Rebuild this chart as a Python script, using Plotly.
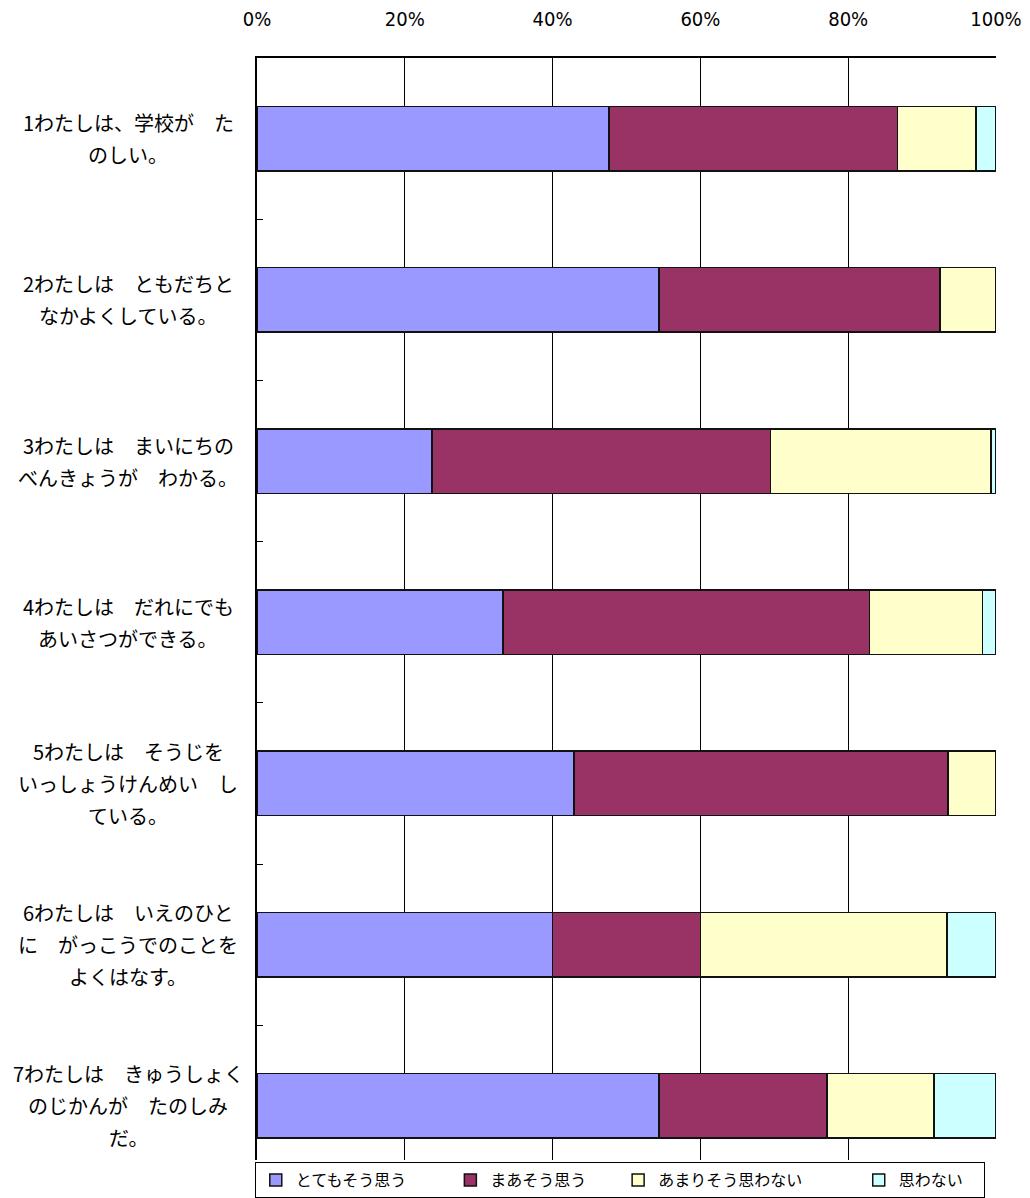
import plotly.graph_objects as go

# questions (top to bottom), split into display lines
questions = [
    "1わたしは、学校が　た<br>のしい。",
    "2わたしは　ともだちと<br>なかよくしている。",
    "3わたしは　まいにちの<br>べんきょうが　わかる。",
    "4わたしは　だれにでも<br>あいさつができる。",
    "5わたしは　そうじを<br>いっしょうけんめい　し<br>ている。",
    "6わたしは　いえのひと<br>に　がっこうでのことを<br>よくはなす。",
    "7わたしは　きゅうしょく<br>のじかんが　たのしみ<br>だ。",
]
categories = ["Q1", "Q2", "Q3", "Q4", "Q5", "Q6", "Q7"]

# percentages
totemo = [47.6, 54.4, 23.7, 33.3, 42.9, 40.0, 54.4]
maa = [39.1, 38.0, 45.8, 49.6, 50.6, 20.0, 22.7]
amari = [10.6, 7.6, 29.8, 15.3, 6.5, 33.4, 14.5]
omowanai = [2.7, 0.0, 0.7, 1.8, 0.0, 6.6, 8.4]

series_names = ["とてもそう思う", "まあそう思う", "あまりそう思わない", "思わない"]
series_values = [totemo, maa, amari, omowanai]
colors = ["#9999FF", "#993366", "#FFFFCC", "#CCFFFF"]
# padding so the legend entries spread like the original
name_pad = ["\u3000\u3000\u00a0\u00a0", "\u3000\u00a0\u00a0\u00a0", "\u3000\u3000\u3000\u00a0", "\u3000"]

JP = "Noto Sans CJK JP, sans-serif"

fig = go.Figure()
for name, vals, col, pad in zip(series_names, series_values, colors, name_pad):
    fig.add_trace(go.Bar(
        y=categories, x=vals, name=name + pad, orientation="h",
        marker=dict(color=col, line=dict(color="#111111", width=1.5)),
    ))

for cat, q in zip(categories, questions):
    lines = q.split("<br>")
    n = len(lines)
    for i, ln in enumerate(lines):
        fig.add_annotation(
            x=-0.1745, xref="paper", y=cat, yref="y",
            text=ln, showarrow=False, xanchor="center", yanchor="middle",
            yshift=-(i - (n - 1) / 2) * 32,
            font=dict(family=JP, size=20, color="black"),
        )

# page body adds an 8px margin, so the figure is sized to fit inside it
fig.update_layout(
    width=1022, height=1190,
    margin=dict(l=249, r=34, t=50, b=38, autoexpand=False),
    barmode="stack", bargap=0.6,
    plot_bgcolor="white", paper_bgcolor="white",
    showlegend=True,
    legend=dict(
        orientation="h", x=-0.003, xanchor="left", y=-0.002, yanchor="top",
        bgcolor="white", bordercolor="black", borderwidth=1,
        font=dict(family=JP, size=16, color="black"),
        traceorder="normal",
    ),
)
fig.update_xaxes(
    side="top", range=[0, 100], tickvals=[0, 20, 40, 60, 80, 100],
    ticktext=["0%", "20%", "40%", "60%", "80%", "100%"],
    showgrid=True, gridcolor="black", gridwidth=1,
    showline=True, linecolor="black", linewidth=2, mirror=False,
    ticks="", ticklabelstandoff=22, zeroline=False, automargin=False,
    tickfont=dict(family="Liberation Sans Narrow, DejaVu Sans Condensed, Arial Narrow, sans-serif",
                  size=20, color="black"),
)
fig.update_yaxes(
    range=[6.336, -0.5], showticklabels=False,
    showline=True, linecolor="black", linewidth=2, automargin=False,
    ticks="inside", tickson="boundaries", ticklen=6, tickcolor="black",
    showgrid=False, zeroline=False,
)

fig.write_html("out.html")
